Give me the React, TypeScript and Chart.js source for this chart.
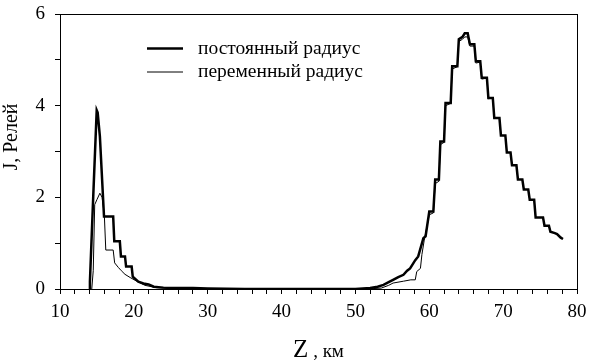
import React, { useEffect, useRef } from "react";
import { Chart, registerables } from "chart.js";

Chart.register(...registerables);

// постоянный радиус (thick)
const constZ = [13.95, 14.05, 14.5, 14.97, 15.1, 15.4, 15.96, 17.2, 17.35, 18.1, 18.25, 18.8, 18.95, 19.7, 19.85, 20.6, 21.3, 22.0, 22.7, 24, 26, 28, 30, 35, 40, 45, 50, 52, 53, 53.8, 54.5, 55.1, 55.8, 56.5, 57.0, 57.4, 58.1, 58.5, 59.2, 59.5, 60.0, 60.55, 60.8, 61.3, 61.5, 62.0, 62.2, 62.9, 63.1, 63.8, 64.0, 64.5, 64.8, 65.2, 65.5, 66.1, 66.3, 66.9, 67.1, 67.8, 68.0, 68.6, 68.8, 69.5, 69.7, 70.3, 70.5, 71.0, 71.2, 71.8, 72.0, 72.6, 72.8, 73.4, 73.6, 74.2, 74.4, 75.4, 75.6, 76.2, 76.4, 77.0, 77.3, 77.8, 78.1];
const constJ = [0, 0.16, 2.02, 3.9, 3.85, 3.33, 1.58, 1.58, 1.04, 1.04, 0.71, 0.71, 0.49, 0.49, 0.27, 0.16, 0.12, 0.1, 0.05, 0.03, 0.02, 0.02, 0.01, 0, 0, 0, 0, 0.02, 0.05, 0.09, 0.15, 0.2, 0.26, 0.31, 0.4, 0.45, 0.63, 0.71, 1.11, 1.15, 1.69, 1.69, 2.39, 2.39, 3.22, 3.22, 4.06, 4.06, 4.86, 4.86, 5.45, 5.5, 5.58, 5.58, 5.34, 5.34, 4.97, 4.97, 4.61, 4.61, 4.17, 4.17, 3.73, 3.73, 3.35, 3.35, 2.98, 2.98, 2.7, 2.7, 2.39, 2.39, 2.17, 2.17, 1.95, 1.95, 1.56, 1.56, 1.38, 1.38, 1.25, 1.22, 1.2, 1.12, 1.09];

// переменный радиус (thin)
const varZ = [14.3, 14.5, 14.7, 15.0, 15.4, 15.7, 16.0, 16.2, 17.2, 17.4, 17.9, 18.3, 18.8, 19.5, 20.4, 21.5, 23, 25, 30, 40, 50, 52.5, 53.5, 54.5, 55.1, 56.5, 57.5, 58.1, 58.3, 58.8, 59.0, 59.3, 60.0, 60.55, 60.8, 61.3, 61.5, 62.0, 62.2, 62.9, 63.1, 63.8, 64.0, 64.5, 64.8, 65.2, 65.5, 66.1, 66.3, 66.9, 67.1, 67.8, 68.0, 68.6, 68.8, 69.5];
const varJ = [0, 0.4, 1.84, 1.95, 2.09, 2.0, 1.62, 0.85, 0.85, 0.57, 0.47, 0.4, 0.32, 0.25, 0.17, 0.08, 0.03, 0.01, 0, 0, 0, 0.01, 0.02, 0.08, 0.13, 0.17, 0.2, 0.2, 0.38, 0.45, 0.75, 1.05, 1.62, 1.66, 2.3, 2.35, 3.15, 3.2, 4.0, 4.05, 4.8, 4.85, 5.4, 5.45, 5.5, 5.5, 5.3, 5.3, 4.93, 4.95, 4.58, 4.6, 4.15, 4.17, 3.73, 3.73];
const varTailZ = [69.7, 70.3, 70.5, 71.0, 71.2, 71.8, 72.0, 72.6, 72.8, 73.4, 73.6, 74.2, 74.4, 75.4, 75.6, 76.2, 76.4, 77.0, 77.3, 77.8, 78.1];
const varTailJ = [3.35, 3.35, 2.98, 2.98, 2.7, 2.7, 2.39, 2.39, 2.17, 2.17, 1.95, 1.95, 1.56, 1.56, 1.38, 1.38, 1.25, 1.22, 1.2, 1.12, 1.09];

const legendLabels = ["постоянный радиус", "переменный радиус"];
const xTitleMain = "Z";
const xTitleRest = " , км";
const yTitle = "J, Релей";

const FONT = '"Times New Roman", "Liberation Serif", "DejaVu Serif", serif';

const toPts = (xs: number[], ys: number[]) => xs.map((x, i) => ({ x, y: ys[i] }));

const decorPlugin = {
  id: "decor",
  afterDraw(chart: any) {
    const { ctx, chartArea } = chart;
    const { left, right, top, bottom } = chartArea;
    ctx.save();
    // frame
    ctx.strokeStyle = "#000";
    ctx.lineWidth = 1;
    ctx.strokeRect(left + 0.5, top + 0.5, right - left, bottom - top);

    // legend
    const lx0 = left + 87;
    const lx1 = left + 123;
    const tx = left + 138;
    const y1 = top + 34.5;
    const y2 = top + 57.5;
    ctx.beginPath();
    ctx.lineWidth = 2.5;
    ctx.moveTo(lx0, y1);
    ctx.lineTo(lx1, y1);
    ctx.stroke();
    ctx.beginPath();
    ctx.lineWidth = 1;
    ctx.moveTo(lx0, y2 + 0.5);
    ctx.lineTo(lx1, y2 + 0.5);
    ctx.stroke();
    ctx.fillStyle = "#000";
    ctx.font = `19.5px ${FONT}`;
    ctx.textAlign = "left";
    ctx.textBaseline = "middle";
    ctx.fillText(legendLabels[0], tx, y1);
    ctx.fillText(legendLabels[1], tx, y2);

    // x title
    ctx.textBaseline = "alphabetic";
    ctx.font = `25px ${FONT}`;
    const w1 = ctx.measureText(xTitleMain).width;
    ctx.font = `19px ${FONT}`;
    const w2 = ctx.measureText(xTitleRest).width;
    const cx = (left + right) / 2;
    const sx = cx - (w1 + w2) / 2;
    ctx.font = `25px ${FONT}`;
    ctx.fillText(xTitleMain, sx, 357);
    ctx.font = `19px ${FONT}`;
    ctx.fillText(xTitleRest, sx + w1, 357);

    // y title
    ctx.save();
    ctx.translate(17, 137);
    ctx.rotate(-Math.PI / 2);
    ctx.font = `20px ${FONT}`;
    ctx.textAlign = "center";
    ctx.textBaseline = "alphabetic";
    ctx.fillText(yTitle, 0, 0);
    ctx.restore();

    ctx.restore();
  },
};

export default function App() {
  const ref = useRef<HTMLCanvasElement>(null);
  useEffect(() => {
    if (!ref.current) return;
    const chart = new Chart(ref.current, {
      type: "line",
      data: {
        datasets: [
          {
            label: legendLabels[1],
            data: [...toPts(varZ, varJ), ...toPts(varTailZ, varTailJ)],
            borderColor: "#000",
            borderWidth: 1,
            pointRadius: 0,
            tension: 0,
          },
          {
            label: legendLabels[0],
            data: toPts(constZ, constJ),
            borderColor: "#000",
            borderWidth: 2.5,
            pointRadius: 0,
            tension: 0,
          },
        ],
      },
      options: {
        responsive: false,
        animation: false,
        layout: { padding: { top: 14, right: 20, left: 0, bottom: 0 } },
        plugins: { legend: { display: false }, tooltip: { enabled: false } },
        scales: {
          x: {
            type: "linear",
            min: 10,
            max: 80,
            ticks: {
              stepSize: 2,
              autoSkip: false,
              maxRotation: 0,
              color: "#000",
              padding: 7,
              font: { family: FONT, size: 19 },
              callback: (v: any) => (Number(v) % 10 === 0 ? String(v) : ""),
            },
            grid: { drawOnChartArea: false, drawTicks: true, tickLength: 5, color: "#000" },
            border: { display: true, color: "#000" },
            afterFit: (s: any) => {
              s.height = 72;
              s.paddingLeft = 0;
              s.paddingRight = 0;
            },
          },
          y: {
            min: 0,
            max: 6,
            ticks: {
              stepSize: 1,
              autoSkip: false,
              color: "#000",
              padding: 10,
              font: { family: FONT, size: 19 },
              callback: (v: any) => (Number(v) % 2 === 0 ? String(v) : ""),
            },
            grid: { drawOnChartArea: false, drawTicks: true, tickLength: 5, color: "#000" },
            border: { display: true, color: "#000" },
            afterFit: (s: any) => {
              s.width = 60;
              s.paddingTop = 0;
              s.paddingBottom = 0;
            },
          },
        },
      },
      plugins: [decorPlugin],
    } as any);
    return () => chart.destroy();
  }, []);
  return (
    <div style={{ position: "fixed", left: 0, top: 0, width: 597, height: 361, background: "#fff" }}>
      <canvas ref={ref} width={597} height={361} style={{ width: 597, height: 361 }} />
    </div>
  );
}
